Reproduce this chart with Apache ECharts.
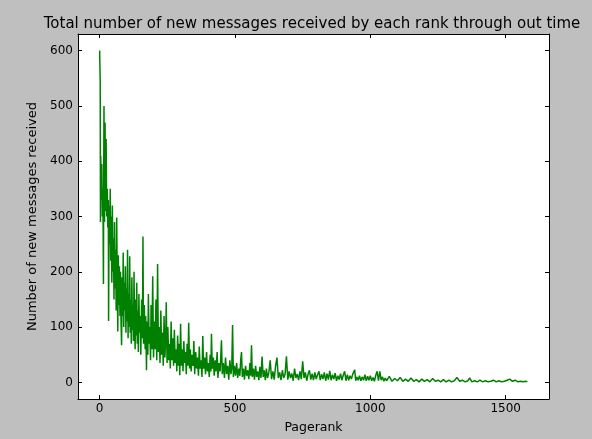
<!DOCTYPE html>
<html>
<head>
<meta charset="utf-8">
<script src="https://cdn.jsdelivr.net/npm/echarts@6/dist/echarts.min.js"></script>
<style>
html,body{margin:0;padding:0;background:#bfbfbf;}
#chart{width:592px;height:439px;}
</style>
</head>
<body>
<div id="chart"></div>
<script>
const titleText = "Total number of new messages received by each rank through out time";
const xName = "Pagerank";
const yName = "Number of new messages received";
const xTicks = [0, 500, 1000, 1500];
const yTicks = [0, 100, 200, 300, 400, 500, 600];
// [pagerank, number of new messages received]
const messages = [
[0,600],[2,545],[3,290],[4,410],[6,330],[8,395],[10,300],[12,350],[14,178],[15,380],
[16,500],[18,290],[20,470],[22,310],[24,440],[26,300],[28,350],[30,280],[32,330],[33,111],
[35,320],[37,250],[39,350],[41,220],[43,300],[45,180],[47,320],[49,200],[51,260],[53,150],
[55,290],[57,170],[59,240],[61,130],[63,298],[65,180],[67,92],[69,230],[71,140],[73,210],
[75,120],[77,200],[79,110],[81,67],[83,190],[85,120],[87,235],[89,100],[91,180],[93,130],
[95,210],[97,90],[99,170],[101,110],[103,240],[105,80],[107,160],[109,100],[111,228],[113,90],
[115,150],[117,70],[119,190],[121,95],[123,140],[125,75],[127,200],[129,100],[131,60],[133,150],
[135,85],[137,180],[139,70],[141,130],[143,55],[145,160],[147,90],[150,120],[152,50],[155,150],
[158,80],[160,264],[162,70],[165,140],[168,60],[170,120],[173,22],[175,110],[178,50],[180,160],
[183,70],[185,100],[188,40],[190,140],[193,60],[196,192],[199,45],[202,110],[205,60],[208,150],
[211,40],[214,214],[217,55],[220,100],[223,35],[226,130],[229,50],[232,90],[235,30],[238,120],
[241,45],[244,80],[246,145],[249,35],[252,100],[255,40],[258,70],[261,25],[264,110],[267,40],
[270,80],[273,30],[276,95],[279,35],[282,60],[285,20],[288,85],[291,30],[294,70],[296,13],
[299,106],[302,30],[305,60],[308,20],[311,75],[314,35],[317,55],[320,15],[323,70],[326,30],
[329,108],[332,25],[335,60],[338,20],[341,50],[345,30],[348,75],[351,15],[355,55],[358,25],
[361,45],[365,12],[368,65],[371,25],[375,40],[378,10],[381,84],[384,25],[388,45],[391,15],
[395,55],[398,20],[401,35],[405,10],[408,50],[411,20],[413,88],[416,25],[420,45],[423,12],
[427,40],[430,20],[434,55],[437,8],[441,35],[445,20],[450,76],[453,15],[457,35],[461,8],
[465,45],[469,15],[473,30],[477,5],[481,40],[485,15],[488,25],[491,104],[494,10],[498,30],
[502,12],[506,35],[510,8],[514,25],[518,12],[521,40],[524,55],[527,10],[531,25],[535,5],
[539,30],[543,12],[547,22],[551,6],[555,35],[558,12],[561,67],[564,10],[568,25],[572,5],
[576,30],[580,10],[584,20],[588,4],[592,28],[596,8],[600,47],[604,10],[608,22],[612,4],
[616,25],[620,8],[625,18],[630,40],[635,6],[640,20],[645,5],[650,30],[655,45],[660,8],
[665,18],[670,4],[675,22],[680,8],[685,15],[690,47],[695,5],[700,20],[705,8],[710,16],
[715,3],[720,25],[725,8],[730,15],[735,4],[740,20],[745,6],[750,38],[755,8],[760,18],
[765,3],[770,15],[775,22],[780,5],[785,16],[790,4],[795,18],[800,6],[805,14],[810,20],
[815,4],[820,15],[825,6],[830,18],[835,3],[840,16],[845,5],[850,21],[855,4],[860,14],
[865,6],[870,17],[875,3],[880,12],[885,5],[890,16],[895,4],[900,13],[905,20],[910,3],
[915,14],[920,4],[925,12],[930,6],[935,15],[942,23],[946,3],[950,10],[955,4],[960,12],
[965,3],[970,10],[975,4],[980,14],[985,3],[990,11],[995,4],[1000,12],[1005,3],[1010,9],
[1015,2],[1020,13],[1025,20],[1030,3],[1035,20],[1040,4],[1045,10],[1050,2],[1055,8],[1060,3],
[1070,11],[1080,2],[1090,7],[1100,3],[1110,9],[1120,2],[1130,6],[1140,2],[1150,8],[1160,2],
[1170,5],[1180,1],[1190,6],[1200,2],[1210,5],[1220,1],[1230,7],[1240,2],[1250,4],[1260,1],
[1270,5],[1280,1],[1290,4],[1300,1],[1310,3],[1320,9],[1330,2],[1340,4],[1350,1],[1360,3],
[1367,8],[1375,1],[1385,3],[1395,1],[1405,4],[1415,1],[1425,3],[1435,1],[1445,2],[1455,4],
[1465,1],[1475,3],[1485,1],[1495,2],[1505,4],[1515,6],[1525,2],[1535,4],[1545,1],[1555,2],
[1565,1],[1575,2],[1580,1]
];

const font = 'DejaVu Sans';
const chart = echarts.init(document.getElementById('chart'), null, {renderer: 'canvas'});
const frameLine = {show: true, onZero: false, lineStyle: {color: '#000', width: 1}};
const plain = v => String(v);
const X_RANGE = {min: -80, max: 1660};
const Y_RANGE = {min: -30, max: 630};
// tick-only axes moved 4px inward, drawing outward ticks that end on the frame
function tickAxis(range, position, ticks) {
  return Object.assign({
    type: 'value', position: position, offset: -4,
    axisLine: {show: false, onZero: false}, splitLine: {show: false},
    axisTick: {show: true, inside: false, length: 4, customValues: ticks, lineStyle: {color: '#000', width: 1}},
    axisLabel: {show: false}
  }, range);
}
chart.setOption({
  animation: false,
  backgroundColor: '#bfbfbf',
  title: {
    text: titleText, left: 307, textAlign: 'center', top: 12,
    textStyle: {fontFamily: font, fontSize: 15, fontWeight: 'normal', color: '#000'}
  },
  grid: {left: 78, top: 34, right: 43, bottom: 39, show: true, backgroundColor: '#fff', borderWidth: 0},
  xAxis: [Object.assign({
    type: 'value', position: 'bottom',
    name: xName, nameLocation: 'middle', nameGap: 22,
    nameTextStyle: {fontFamily: font, fontSize: 12.5, color: '#000'},
    axisLine: frameLine, splitLine: {show: false},
    axisTick: {show: false},
    axisLabel: {customValues: xTicks, formatter: plain, fontFamily: font, fontSize: 12, color: '#000', margin: 4}
  }, X_RANGE), Object.assign({
    type: 'value', position: 'top',
    axisLine: frameLine, splitLine: {show: false},
    axisTick: {show: false}, axisLabel: {show: false}
  }, X_RANGE),
    tickAxis(X_RANGE, 'bottom', xTicks), tickAxis(X_RANGE, 'top', xTicks)
  ],
  yAxis: [Object.assign({
    type: 'value', position: 'left',
    name: yName, nameLocation: 'middle', nameGap: 29, nameRotate: 90,
    nameTextStyle: {fontFamily: font, fontSize: 13, color: '#000'},
    axisLine: frameLine, splitLine: {show: false},
    axisTick: {show: false},
    axisLabel: {customValues: yTicks, formatter: plain, fontFamily: font, fontSize: 12, color: '#000', margin: 5}
  }, Y_RANGE), Object.assign({
    type: 'value', position: 'right',
    axisLine: frameLine, splitLine: {show: false},
    axisTick: {show: false}, axisLabel: {show: false}
  }, Y_RANGE),
    tickAxis(Y_RANGE, 'left', yTicks), tickAxis(Y_RANGE, 'right', yTicks)
  ],
  series: [{
    type: 'line', data: messages, showSymbol: false, symbol: 'none',
    lineStyle: {color: '#008000', width: 1.5}, itemStyle: {color: '#008000'},
    xAxisIndex: 0, yAxisIndex: 0, z: 3
  }]
});
</script>
</body>
</html>
